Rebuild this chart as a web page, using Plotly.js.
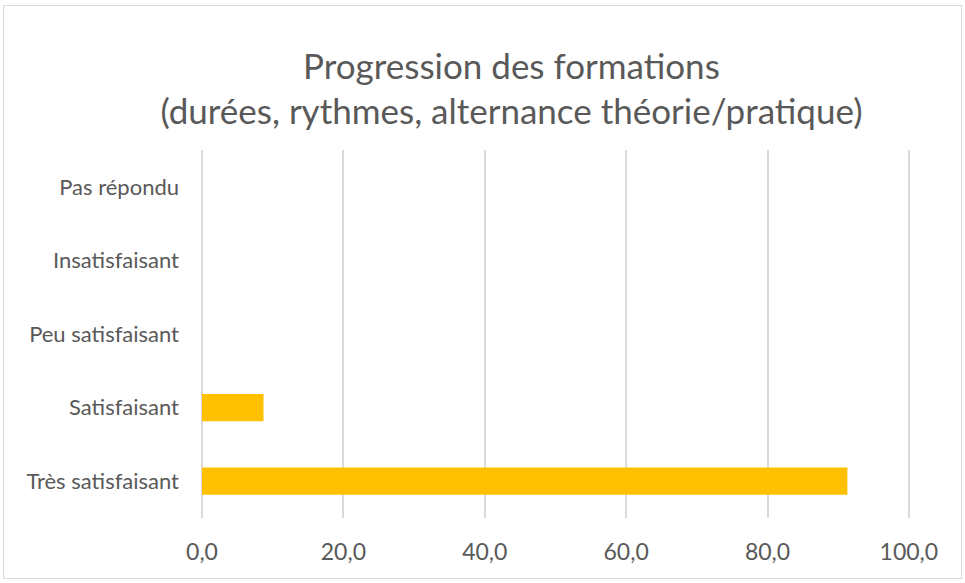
<!DOCTYPE html>
<html>
<head>
<meta charset="utf-8">
<script src="https://cdn.plot.ly/plotly-3.0.1.min.js"></script>
<style>
  body { margin: 0; background: #fff; }
  #plot { position: absolute; left: 0; top: 0; width: 965px; height: 583px; }
  #frame { position: absolute; left: 3px; top: 5px; width: 957px; height: 572px; border: 1px solid #d9d9d9; pointer-events: none; }
</style>
</head>
<body>
<div id="plot"></div>
<div id="frame"></div>
<script>
var categories = ['Très satisfaisant', 'Satisfaisant', 'Peu satisfaisant', 'Insatisfaisant', 'Pas répondu'];
var values = [91.3, 8.7, 0, 0, 0];
var tickVals = [0, 20, 40, 60, 80, 100];

function makePlot() {
  var trace1 = {
    x: values,
    y: categories,
    type: 'bar',
    orientation: 'h',
    marker: { color: '#FFC000' },
    hoverinfo: 'x+y'
  };

  var layout = {
    width: 965,
    height: 583,
    font: { family: 'Lato, sans-serif', color: '#595959', size: 22 },
    separators: ',.',
    title: {
      text: 'Progression des formations<br>(durées, rythmes, alternance théorie/pratique)',
      font: { size: 35, color: '#595959' },
      x: 0.53,
      xanchor: 'center',
      y: 0.865,
      yanchor: 'top'
    },
    xaxis: {
      // a hair past 100 so the last gridline is still drawn
      range: [0, 100.3],
      tickvals: tickVals,
      tickformat: '.1f',
      tickfont: { size: 23 },
      showgrid: true,
      gridcolor: '#d9d9d9',
      gridwidth: 1.5,
      zeroline: true,
      zerolinecolor: '#d9d9d9',
      zerolinewidth: 1.5,
      showline: false,
      ticklabelstandoff: 18
    },
    yaxis: {
      showgrid: false,
      zeroline: false,
      showline: false,
      ticklabelstandoff: 22
    },
    bargap: 0.63,
    margin: { l: 202, r: 54, t: 150, b: 65, pad: 0 },
    showlegend: false,
    plot_bgcolor: '#fff',
    paper_bgcolor: '#fff'
  };

  Plotly.newPlot('plot', [trace1], layout, { displayModeBar: false });
}

makePlot();
</script>
</body>
</html>
